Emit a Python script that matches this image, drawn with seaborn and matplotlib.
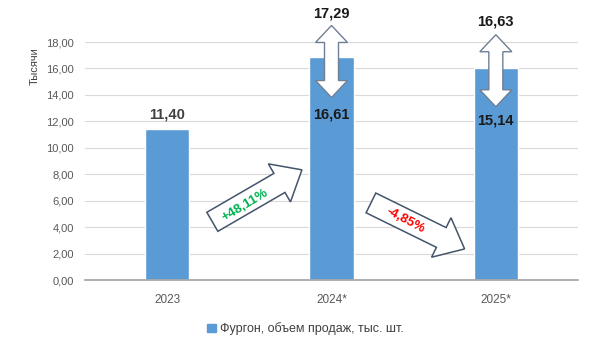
import numpy as np
import pandas as pd
import matplotlib
matplotlib.use("Agg")
import matplotlib.pyplot as plt
import seaborn as sns
from matplotlib.patches import Polygon, Patch
from matplotlib.transforms import IdentityTransform

# ---- data ----
categories = ["2023", "2024*", "2025*"]
bar_values = [11.40, 16.90, 16.00]
bar_labels = ["11,40", "", ""]
range_high = [None, 17.29, 16.63]
range_low = [None, 16.61, 15.14]
high_labels = ["", "17,29", "16,63"]
low_labels = ["", "16,61", "15,14"]
growth_labels = ["+48,11%", "-4,85%"]
y_ticks = [0, 2, 4, 6, 8, 10, 12, 14, 16, 18]
y_tick_labels = ["0,00", "2,00", "4,00", "6,00", "8,00", "10,00", "12,00", "14,00", "16,00", "18,00"]
series_name = "Фургон, объем продаж, тыс. шт."
y_title = "Тысячи"

sns.set_theme(style="white")
plt.rcParams["font.family"] = ["Liberation Sans", "DejaVu Sans"]

BAR = "#5B9BD5"
fig = plt.figure(figsize=(6.11, 3.51), dpi=100)
ax = fig.add_axes([85/611, 1-280/351, (578-85)/611, (280-42)/351])

df = pd.DataFrame({"cat": categories, "val": bar_values})
sns.barplot(data=df, x="cat", y="val", color=BAR, saturation=1, width=0.27, ax=ax)

ax.set_xlim(-0.5, 2.5)
ax.set_ylim(0, 18)
ax.set_yticks(y_ticks)
ax.set_yticklabels(y_tick_labels, fontsize=8, color="#595959")
ax.yaxis.grid(True, color="#D9D9D9", lw=0.8)
ax.set_axisbelow(True)
for s in ["top", "right", "left"]:
    ax.spines[s].set_visible(False)
ax.spines["bottom"].set_color("#A6A6A6")
ax.tick_params(axis="y", length=0, pad=8)
ax.tick_params(axis="x", length=0, pad=10, labelsize=8.5, labelcolor="#595959")
ax.set_xticks([-0.5, 0.5, 1.5, 2.5], minor=True)
ax.tick_params(axis="x", which="minor", length=4, color="#A6A6A6", direction="out")
ax.set_xlabel("")
ax.set_ylabel("")
fig.text(35/611, 1-66/351, y_title, rotation=90, ha="center", va="center",
         fontsize=8, color="#404040")

# value label for 2023
ax.text(0, bar_values[0] + 0.6, bar_labels[0], ha="center", va="bottom",
        fontsize=10.5, fontweight="bold", color="#404040")

fig.canvas.draw()
T = ax.transData


def block_arrow(p0, p1, sw, hw, hl, double=False, ec="#44546A", lw=1.1):
    p0 = np.asarray(p0, float); p1 = np.asarray(p1, float)
    u = (p1 - p0) / np.linalg.norm(p1 - p0)
    n = np.array([-u[1], u[0]])
    if double:
        pts = [p0,
               p0 + u*hl + n*hw/2, p0 + u*hl + n*sw/2,
               p1 - u*hl + n*sw/2, p1 - u*hl + n*hw/2,
               p1,
               p1 - u*hl - n*hw/2, p1 - u*hl - n*sw/2,
               p0 + u*hl - n*sw/2, p0 + u*hl - n*hw/2]
    else:
        pts = [p0 + n*sw/2, p1 - u*hl + n*sw/2, p1 - u*hl + n*hw/2, p1,
               p1 - u*hl - n*hw/2, p1 - u*hl - n*sw/2, p0 - n*sw/2]
    poly = Polygon(pts, closed=True, transform=IdentityTransform(),
                   facecolor="white", edgecolor=ec, lw=lw, clip_on=False, zorder=5)
    ax.add_patch(poly)


# vertical double arrows for ranges
tops = [None, 19.25, 18.55]
bottoms = [None, 13.8, 13.1]
high_y = [None, 20.15, 19.55]
low_y = [None, 12.55, 12.1]
for i in (1, 2):
    a = T.transform((i, bottoms[i]))
    b = T.transform((i, tops[i]))
    block_arrow(a, b, 14, 32, 17, double=True, ec="#6F7F95", lw=1.0)
    ax.text(i, high_y[i], high_labels[i], ha="center", va="center",
            fontsize=10.5, fontweight="bold", color="#1a1a1a", clip_on=False, zorder=6)
    ax.text(i, low_y[i], low_labels[i], ha="center", va="center",
            fontsize=10.5, fontweight="bold", color="#1a1a1a", zorder=6)

# growth arrows
a = T.transform((0.275, 4.4)); b = T.transform((0.82, 8.33))
block_arrow(a, b, 22, 44, 26)
ax.text(0.475, 5.65, growth_labels[0], rotation=31, ha="center", va="center",
        fontsize=9.5, fontweight="bold", color="#00B050", zorder=6)
a = T.transform((1.24, 5.83)); b = T.transform((1.81, 2.35))
block_arrow(a, b, 22, 44, 26)
ax.text(1.45, 4.5, growth_labels[1], rotation=-28, ha="center", va="center",
        fontsize=9.5, fontweight="bold", color="#FF0000", zorder=6)

fig.legend(handles=[Patch(facecolor=BAR, edgecolor=BAR, label=series_name)],
           loc="center", bbox_to_anchor=(0.5, 1-329/351), frameon=False,
           fontsize=9, handlelength=0.7, handleheight=0.7, handletextpad=0.4,
           labelcolor="#404040")

fig.savefig("out.png", dpi=100)
